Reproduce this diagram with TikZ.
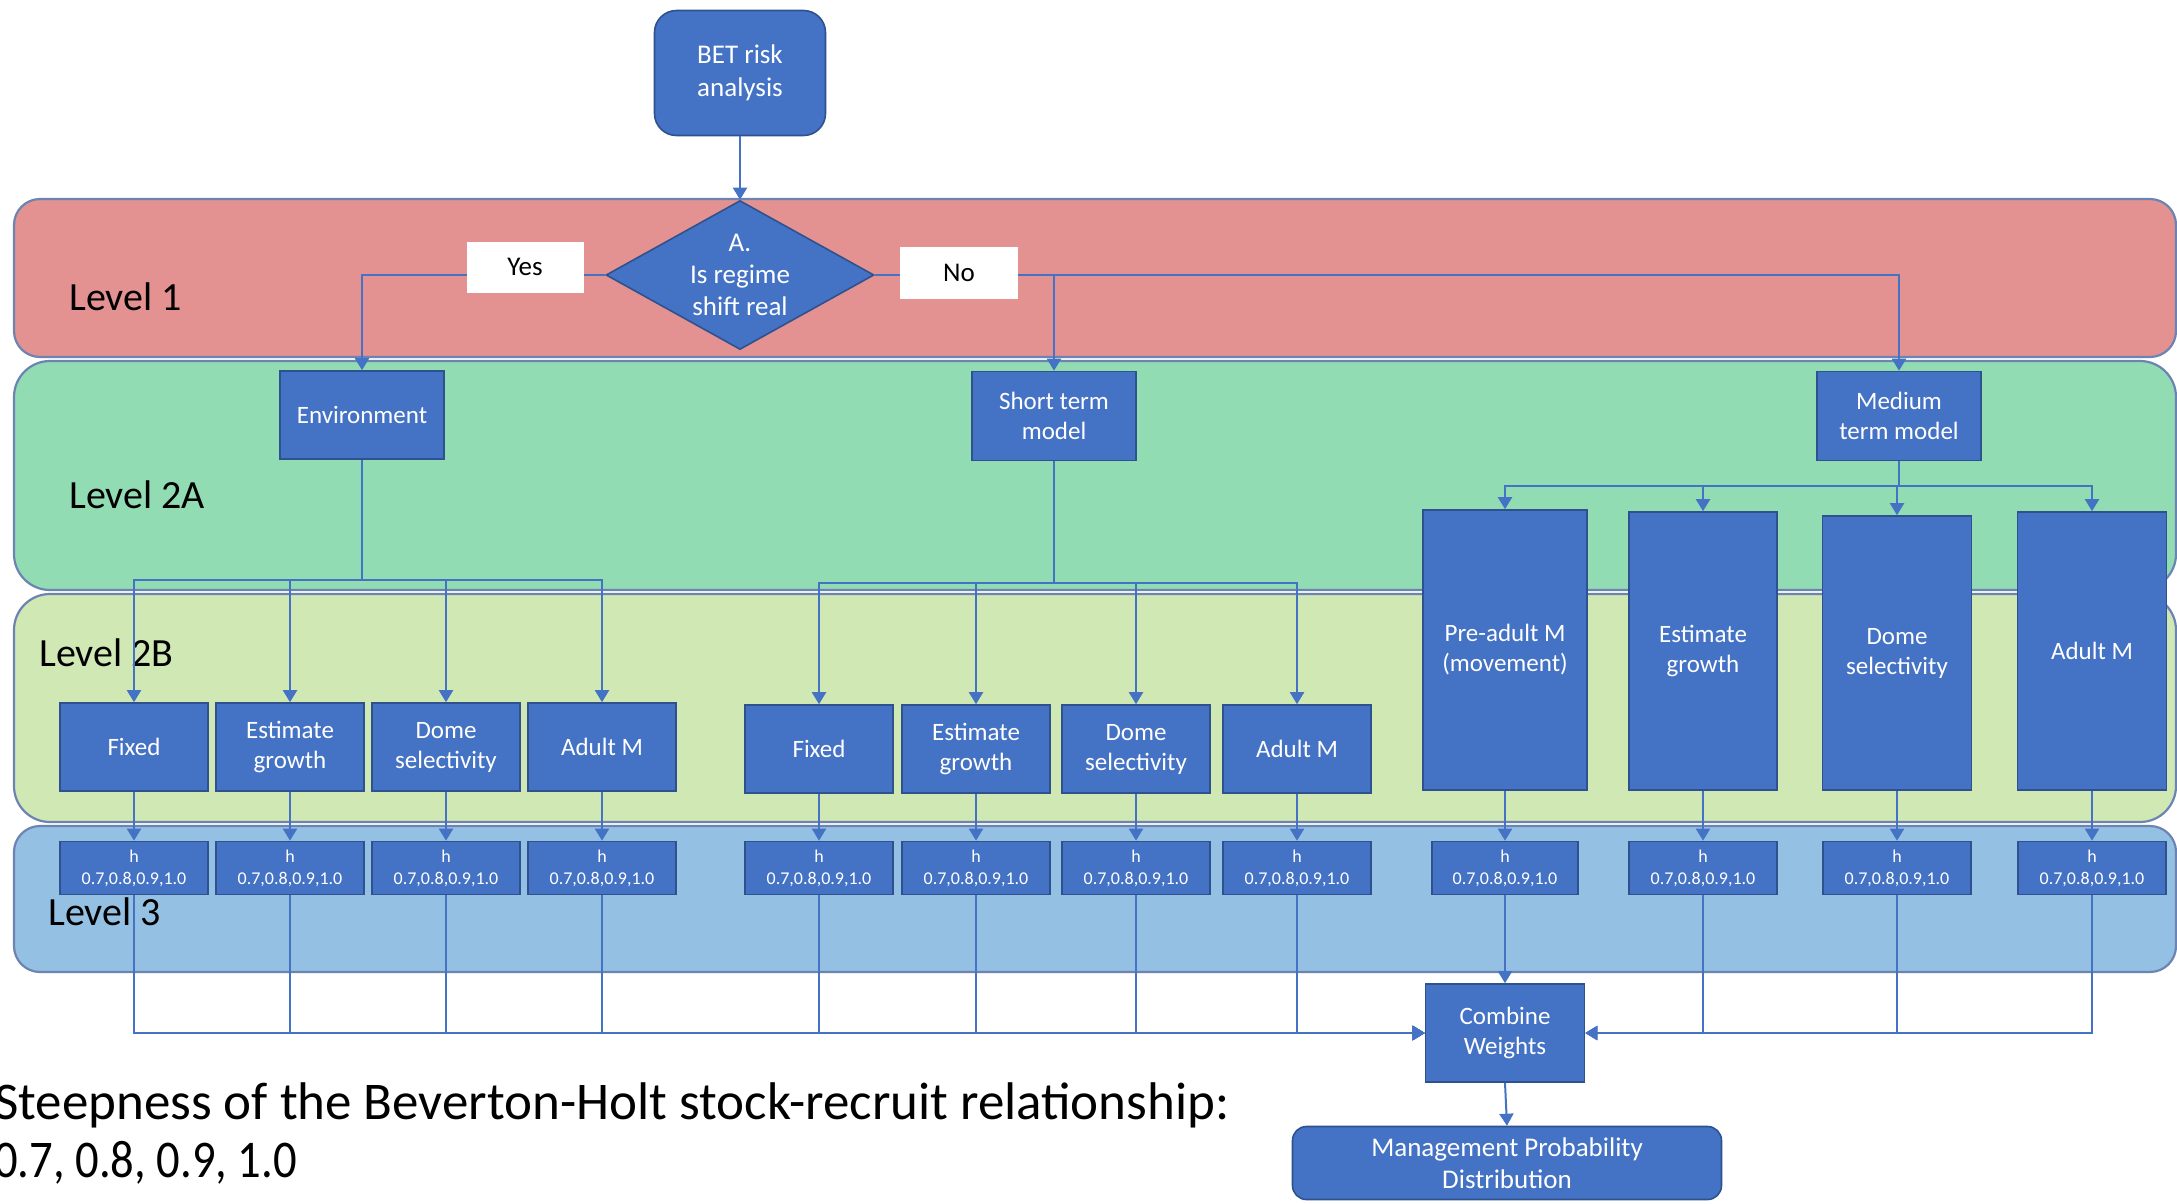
\documentclass[tikz,border=0pt]{standalone}
\usepackage{fontspec}
\setmainfont{Carlito}
\usetikzlibrary{shapes.geometric,arrows.meta,calc}
\definecolor{boxblue}{HTML}{4472C4}
\definecolor{boxborder}{HTML}{2F528F}
\definecolor{lineblue}{HTML}{4472C4}
\definecolor{bandred}{HTML}{E39191}
\definecolor{bandgreen}{HTML}{92DCB4}
\definecolor{bandlime}{HTML}{D0E8B4}
\definecolor{bandblue}{HTML}{94C1E3}
\definecolor{bandedge}{HTML}{6D84B2}
\tikzset{
  band/.style={draw=bandedge, line width=2.2pt},
  box/.style={draw=boxborder, fill=boxblue, line width=1.6pt, text=white, align=center,
              inner sep=0pt, font=\fontsize{25}{30}\selectfont},
  smallbox/.style={box, minimum width=148pt, minimum height=88pt},
  hbox/.style={box, minimum width=148pt, minimum height=53pt, font=\fontsize{18}{22}\selectfont},
  tallbox/.style={box, minimum height=278pt},
  midbox/.style={box, minimum width=164pt, minimum height=88pt},
  yn/.style={fill=white, text=black, inner sep=0pt, minimum width=117pt, minimum height=51pt,
             font=\fontsize{27}{32}\selectfont},
  lev/.style={anchor=base west, inner sep=0pt, text=black, font=\fontsize{40}{48}\selectfont},
  note/.style={anchor=base west, inner sep=0pt, text=black, font=\fontsize{53}{60}\selectfont},
  conn/.style={draw=lineblue, line width=2pt},
  arr/.style={conn, -{Triangle[width=14pt,length=12pt]}}
}
\begin{document}
\begin{tikzpicture}[x=1pt,y=-1pt]
\useasboundingbox (0,0) rectangle (2177,1203);
\fill[white] (0,0) rectangle (2177,1203);

% bands
\draw[band, fill=bandred, rounded corners=26pt] (14,199) rectangle (2176,357);
\draw[band, fill=bandgreen, rounded corners=36pt] (14,361) rectangle (2176,590);
\draw[band, fill=bandlime, rounded corners=36pt] (14,594) rectangle (2176,822);
\draw[band, fill=bandblue, rounded corners=26pt] (14,826) rectangle (2176,972);

% level labels
\node[lev] (lv1) at (69,310) {Level 1};
\node[lev] (lv2a) at (69,508) {Level 2A};
\node[lev] (lv2b) at (39,666) {Level 2B};
\node[lev] (lv3) at (48,925) {Level 3};

% top
\node[box, rounded corners=22pt, minimum width=171pt, minimum height=125pt,
      font=\fontsize{27}{33}\selectfont] (bet) at (740,73) {BET risk\\analysis};
\node[diamond, draw=boxborder, fill=boxblue, line width=1.6pt, inner sep=0pt,
      minimum width=268pt, minimum height=149pt] (dia) at (740,275) {};
\node[text=white, align=center, inner sep=0pt, font=\fontsize{27}{32}\selectfont] (diat) at (740,275) {A.\\Is regime\\shift real};

% level 2A
\node[midbox] (env) at (362,415) {Environment};
\node[midbox, minimum height=89pt] (short) at (1054,416) {Short term\\model};
\node[midbox, minimum height=89pt] (med) at (1899,416) {Medium\\term model};

% level 2B left
\node[smallbox] (f1) at (134,747) {Fixed};
\node[smallbox] (g1) at (290,747) {Estimate\\growth};
\node[smallbox] (d1) at (446,747) {Dome\\selectivity};
\node[smallbox] (a1) at (602,747) {Adult M};
% level 2B middle
\node[smallbox] (f2) at (819,749) {Fixed};
\node[smallbox] (g2) at (976,749) {Estimate\\growth};
\node[smallbox] (d2) at (1136,749) {Dome\\selectivity};
\node[smallbox] (a2) at (1297,749) {Adult M};
% tall boxes right
\node[tallbox, minimum width=164pt, minimum height=280pt] (p3) at (1505,650) {Pre-adult M\\(movement)};
\node[tallbox, minimum width=148pt] (g3) at (1703,651) {Estimate\\growth};
\node[tallbox, minimum width=149pt, minimum height=274pt] (d3) at (1897,653) {Dome\\selectivity};
\node[tallbox, minimum width=149pt] (a3) at (2092,651) {Adult M};

% level 3
\node[hbox] (h1) at (134,868) {h\\0.7,0.8,0.9,1.0};
\node[hbox] (h2) at (290,868) {h\\0.7,0.8,0.9,1.0};
\node[hbox] (h3) at (446,868) {h\\0.7,0.8,0.9,1.0};
\node[hbox] (h4) at (602,868) {h\\0.7,0.8,0.9,1.0};
\node[hbox] (h5) at (819,868) {h\\0.7,0.8,0.9,1.0};
\node[hbox] (h6) at (976,868) {h\\0.7,0.8,0.9,1.0};
\node[hbox] (h7) at (1136,868) {h\\0.7,0.8,0.9,1.0};
\node[hbox] (h8) at (1297,868) {h\\0.7,0.8,0.9,1.0};
\node[hbox, minimum width=146pt] (hp) at (1505,868) {h\\0.7,0.8,0.9,1.0};
\node[hbox] (hg) at (1703,868) {h\\0.7,0.8,0.9,1.0};
\node[hbox] (hd) at (1897,868) {h\\0.7,0.8,0.9,1.0};
\node[hbox] (ha) at (2092,868) {h\\0.7,0.8,0.9,1.0};

% bottom
\node[box, minimum width=159pt, minimum height=98pt] (comb) at (1505,1033) {Combine\\Weights};
\node[box, rounded corners=14pt, minimum width=429pt, minimum height=73pt,
      font=\fontsize{27}{32}\selectfont] (mgmt) at (1507,1163) {Management Probability\\Distribution};

% connectors
\draw[arr] (bet.south) -- (dia.north);
\draw[arr] (dia.west) -| (env.north);
\draw[arr] (dia.east) -| (short.north);
\draw[arr] (dia.east) -| (med.north);

\coordinate (ebus) at (362,580);
\coordinate (sbus) at (1054,583);
\coordinate (mbus) at (1899,486);
\foreach \n in {f1,g1,d1,a1} \draw[arr] (env.south) -- (ebus) -| (\n.north);
\foreach \n in {f2,g2,d2,a2} \draw[arr] (short.south) -- (sbus) -| (\n.north);
\foreach \n in {p3,g3,d3,a3} \draw[arr] (med.south) -- (mbus) -| (\n.north);

\draw[arr] (f1.south) -- (h1.north);
\draw[arr] (g1.south) -- (h2.north);
\draw[arr] (d1.south) -- (h3.north);
\draw[arr] (a1.south) -- (h4.north);
\draw[arr] (f2.south) -- (h5.north);
\draw[arr] (g2.south) -- (h6.north);
\draw[arr] (d2.south) -- (h7.north);
\draw[arr] (a2.south) -- (h8.north);
\draw[arr] (p3.south) -- (hp.north);
\draw[arr] (g3.south) -- (hg.north);
\draw[arr] (d3.south) -- (hd.north);
\draw[arr] (a3.south) -- (ha.north);

\foreach \n in {h1,h2,h3,h4,h5,h6,h7,h8} \draw[arr] (\n.south) |- (comb.west);
\foreach \n in {hg,hd,ha} \draw[arr] (\n.south) |- (comb.east);
\draw[arr] (hp.south) -- (comb.north);
\draw[arr] (comb.south) -- (mgmt.north);

% yes / no labels
\node[yn] (yes) at (525,267) {Yes};
\node[yn, minimum width=118pt, minimum height=52pt] (no) at (959,273) {No};

% note
\node[note] (note1) at (-6,1119) {Steepness of the Beverton-Holt stock-recruit relationship:};
\node[note] (note2) at (-6,1177) {\scalebox{0.88}[1]{0.7, 0.8, 0.9, 1.0}};
\end{tikzpicture}
\end{document}
